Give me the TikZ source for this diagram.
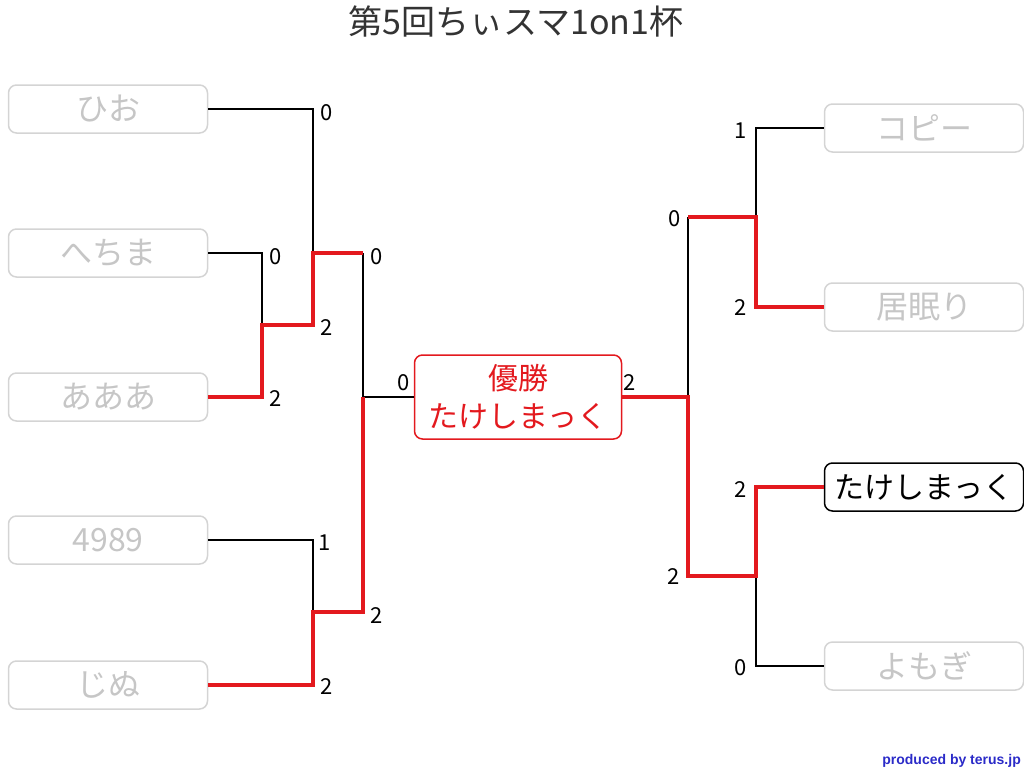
\documentclass[tikz,border=0pt]{standalone}
\usepackage{fontspec}
\setmainfont{Noto Sans CJK JP}
\newfontfamily\credfont{Liberation Sans}
\usepackage{xcolor}
\definecolor{winred}{HTML}{E3191E}
\definecolor{outgray}{HTML}{D4D4D4}
\definecolor{outtext}{HTML}{C6C6C6}
\definecolor{credblue}{HTML}{2B2BC8}

\begin{document}
\begin{tikzpicture}[x=1pt,y=-1pt,
	player/.style={rectangle,rounded corners=8pt,draw=outgray,line width=1.5pt,minimum width=199pt,minimum height=48pt,inner sep=0pt,text=outtext,font=\fontsize{32}{32}\selectfont},
	score/.style={inner sep=0pt,font=\fontsize{22}{22}\selectfont},
	lose/.style={line width=2pt},
	win/.style={line width=4.5pt,draw=winred}]
	\useasboundingbox (0,0) rectangle (1024,768);
	\node (title) at (516,21) [text=black!80,font=\fontsize{34}{34}\selectfont] {第5回ちぃスマ1on1杯};
	% left side
	\node (hio) at (108,109) [player] {ひお};
	\node (hechima) at (108,253) [player] {へちま};
	\node (aaa) at (108,397) [player] {あああ};
	\node (n4989) at (108,540) [player] {4989};
	\node (jinu) at (108,685) [player] {じぬ};
	% right side
	\node (copy) at (924,128) [player] {コピー};
	\node (inemuri) at (924,307) [player] {居眠り};
	\node (takeshi) at (924,487) [player,draw=black,text=black,font=\fontsize{30}{30}\selectfont] {たけしまっく};
	\node (yomogi) at (924,666) [player] {よもぎ};
	% champion
	\node (champ) at (518,397) [rectangle,rounded corners=8pt,draw=winred,line width=1.5pt,text=winred,minimum width=207pt,minimum height=84pt,inner sep=0pt,align=center,font=\fontsize{30}{38}\selectfont] {優勝\\たけしまっく};
	\coordinate (m1) at (262,325);
	\coordinate (q1) at (313,253);
	\coordinate (s1) at (363,253);
	\coordinate (f1) at (363,397);
	\coordinate (q2) at (313,612);
	\coordinate (s2) at (363,612);
	\coordinate (f2) at (688,397);
	\coordinate (s3) at (688,217);
	\coordinate (q3) at (756,217);
	\coordinate (s4) at (688,576);
	\coordinate (q4) at (756,576);
	\draw [lose] (hio) -| (q1);
	\draw [lose] (hechima) -| (m1);
	\draw [lose] (s1) |- (champ);
	\draw [lose] (n4989) -| (q2);
	\draw [lose] (f2) -- (s3);
	\draw [lose] (copy) -| (q3);
	\draw [lose] (yomogi) -| (q4);
	\draw [win] (aaa) -| (m1) -| (q1) -- (s1);
	\draw [win] (jinu) -| (q2) -- (s2) -- (f1);
	\draw [win] (champ) -- (f2) -- (s4) -- (q4) |- (takeshi);
	\draw [win] (s3) -- (q3) |- (inemuri);
	% scores
	\node (sc1) at (327,113) [score] {0};
	\node (sc2) at (276,257) [score] {0};
	\node (sc3) at (327,328) [score] {2};
	\node (sc4) at (276,399) [score] {2};
	\node (sc5) at (377,257) [score] {0};
	\node (sc6) at (404,383) [score] {0};
	\node (sc7) at (325,543) [score] {1};
	\node (sc8) at (377,616) [score] {2};
	\node (sc9) at (327,687) [score] {2};
	\node (sc10) at (630,383) [score] {2};
	\node (sc11) at (741,131) [score] {1};
	\node (sc12) at (675,219) [score] {0};
	\node (sc13) at (741,308) [score] {2};
	\node (sc14) at (741,490) [score] {2};
	\node (sc15) at (674,577) [score] {2};
	\node (sc16) at (741,668) [score] {0};
	\node (credit) at (1021,761) [anchor=east,inner sep=0pt,text=credblue,font=\credfont\bfseries\fontsize{14}{14}\selectfont] {produced by terus.jp};
\end{tikzpicture}
\end{document}
